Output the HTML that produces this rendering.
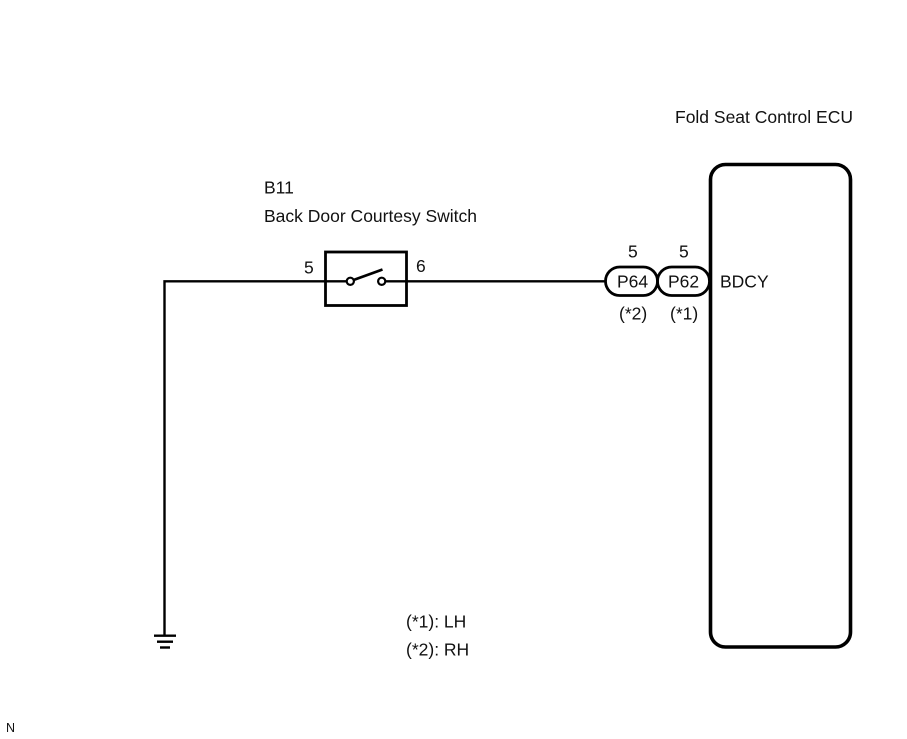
<!DOCTYPE html>
<html>
<head>
<meta charset="utf-8">
<style>
html,body{margin:0;padding:0;background:#fff}
svg{display:block}
text{font-family:"Liberation Sans",Arial,sans-serif;font-size:17.5px;fill:#111}
</style>
</head>
<body>
<svg width="907" height="739" viewBox="0 0 907 739" xmlns="http://www.w3.org/2000/svg">
<rect width="907" height="739" fill="#fff"/>
<g fill="none" stroke="#000">
<rect x="710.5" y="164.500" width="140" height="482.500" rx="15" ry="15" stroke-width="3.6"/>
<rect x="325.500" y="252" width="81" height="53.5" stroke-width="2.8"/>
<path d="M164.500 636V281.300H346.500M385.500 281.300H605" stroke-width="2.4"/>
<path d="M353.500 280L382.500 269.500" stroke-width="2.6"/>
<circle cx="350.300" cy="281.300" r="3.6" stroke-width="2.2"/>
<circle cx="381.700" cy="281.300" r="3.6" stroke-width="2.2"/>
<rect x="605.500" y="267" width="52" height="28.500" rx="14.200" ry="14.200" stroke-width="2.8"/>
<rect x="657.500" y="267" width="52" height="28.500" rx="14.200" ry="14.200" stroke-width="2.8"/>
<path d="M154 635.700H176" stroke-width="2.400"/>
<path d="M157 641.700H173" stroke-width="2.400"/>
<path d="M160 647.500H170" stroke-width="2.400"/>
</g>
<text x="675" y="123">Fold Seat Control ECU</text>
<text x="264" y="193.500">B11</text>
<text x="264" y="222">Back Door Courtesy Switch</text>
<text x="304" y="273.500">5</text>
<text x="416" y="272">6</text>
<text x="628" y="257.500">5</text>
<text x="679" y="257.500">5</text>
<text x="617" y="287.500">P64</text>
<text x="668" y="287.500">P62</text>
<text x="720" y="287.500">BDCY</text>
<text x="619" y="319.500">(*2)</text>
<text x="670" y="319.500">(*1)</text>
<text x="406" y="627.500">(*1): LH</text>
<text x="406" y="655.500">(*2): RH</text>
<text x="6" y="732" style="font-size:12.5px">N</text>
</svg>
</body>
</html>
